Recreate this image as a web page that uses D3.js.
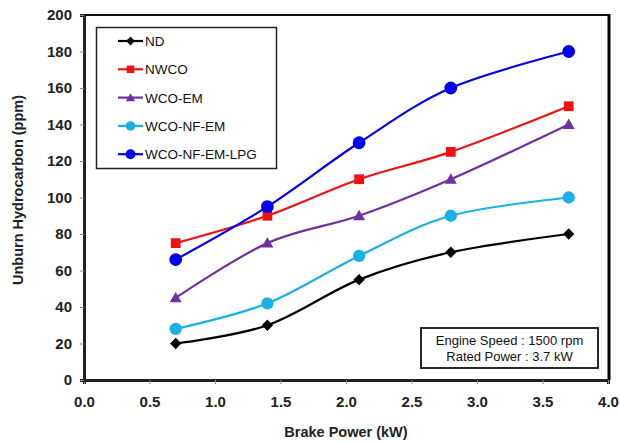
<!DOCTYPE html>
<html>
<head>
<meta charset="utf-8">
<script src="https://cdn.jsdelivr.net/npm/d3@7"></script>
<style>
  body { margin: 0; background: #fff; }
  text { font-family: "Liberation Sans", Arial, sans-serif; }
</style>
</head>
<body>
<div id="chart"></div>
<script>

// data
var power = [0.7, 1.4, 2.1, 2.8, 3.7];
var seriesNames = ["ND", "NWCO", "WCO-EM", "WCO-NF-EM", "WCO-NF-EM-LPG"];
var nd = [20, 30, 55, 70, 80];
var nwco = [75, 90, 110, 125, 150];
var wcoEm = [45, 75, 90, 110, 140];
var wcoNfEm = [28, 42, 68, 90, 100];
var wcoNfEmLpg = [66, 95, 130, 160, 180];
var xTicks = [0, 0.5, 1.0, 1.5, 2.0, 2.5, 3.0, 3.5, 4.0];
var yTicks = [0, 20, 40, 60, 80, 100, 120, 140, 160, 180, 200];
var notes = ["Engine Speed  : 1500 rpm", "Rated Power : 3.7 kW"];

var colors = ["#000000", "#ee1111", "#7030a0", "#19b0e8", "#0000ee"];
var shapes = ["diamond", "square", "triangle", "circle", "circle"];
var sizes = [64, 95, 62, 118, 128];
var values = [nd, nwco, wcoEm, wcoNfEm, wcoNfEmLpg];

// set the dimensions and margins of the graph
var margin = {top: 15, right: 12, bottom: 63, left: 84},
    width = 620 - margin.left - margin.right,
    height = 443 - margin.top - margin.bottom;

var x = d3.scaleLinear().domain([0, 4]).range([0, width]);
var y = d3.scaleLinear().domain([0, 200]).range([height, 0]);

var svg = d3.select("#chart").append("svg")
    .attr("width", 620)
    .attr("height", 443);

var plot = svg.append("g")
    .attr("transform", "translate(" + margin.left + "," + margin.top + ")");

// frame: top and right borders
plot.append("line")
    .attr("x1", 0).attr("x2", width).attr("y1", 0).attr("y2", 0)
    .attr("stroke", "#111").attr("stroke-width", 2);
plot.append("line")
    .attr("x1", width + 1).attr("x2", width + 1).attr("y1", -1).attr("y2", height)
    .attr("stroke", "#000").attr("stroke-width", 3);

// axes
var xAxis = plot.append("g")
    .attr("transform", "translate(0," + height + ")")
    .call(d3.axisBottom(x).tickValues(xTicks).tickFormat(d3.format(".1f")).tickSize(4).tickPadding(12));
var yAxis = plot.append("g")
    .call(d3.axisLeft(y).tickValues(yTicks).tickSize(4).tickPadding(8));

[xAxis, yAxis].forEach(function(a) {
  a.select(".domain").attr("stroke", "#222").attr("stroke-width", 3);
  a.selectAll(".tick line").attr("stroke", "#888");
  a.selectAll(".tick text")
    .attr("fill", "#222")
    .style("font-size", "15px")
    .style("font-weight", "bold")
    .style("font-family", "'Liberation Sans', Arial, sans-serif");
});

// axis titles
svg.append("text")
    .attr("x", margin.left + width / 2)
    .attr("y", 437)
    .attr("text-anchor", "middle")
    .attr("fill", "#222")
    .style("font-size", "14.5px")
    .style("font-weight", "bold")
    .text("Brake Power (kW)");

svg.append("text")
    .attr("transform", "translate(23,190) rotate(-90)")
    .attr("text-anchor", "middle")
    .attr("fill", "#222")
    .style("font-size", "14.5px")
    .style("font-weight", "bold")
    .text("Unburn Hydrocarbon (ppm)");

// lines -- smoothed like the spreadsheet
var valueline = d3.line()
    .x(function(d) { return x(d[0]); })
    .y(function(d) { return y(d[1]); })
    .curve(d3.curveCatmullRom.alpha(0));

var symbolTypes = {diamond: d3.symbolSquare, square: d3.symbolSquare,
                   triangle: d3.symbolTriangle, circle: d3.symbolCircle};

function markerTransform(i, px, py) {
  var t = "translate(" + px + "," + (py + (shapes[i] == "triangle" ? 1 : 0)) + ")";
  if (shapes[i] == "diamond") t += " rotate(45)";
  return t;
}

values.forEach(function(vals, i) {
  var pts = power.map(function(p, j) { return [p, vals[j]]; });
  plot.append("path")
      .datum(pts)
      .attr("fill", "none")
      .attr("stroke", colors[i])
      .attr("stroke-width", 2.2)
      .attr("d", valueline);
  plot.selectAll(".pt" + i)
      .data(pts)
      .enter().append("path")
      .attr("transform", function(d) { return markerTransform(i, x(d[0]), y(d[1])); })
      .attr("d", d3.symbol().type(symbolTypes[shapes[i]]).size(sizes[i]))
      .attr("fill", colors[i]);
});

// legend
var legend = svg.append("g");
legend.append("rect")
    .attr("x", 96.5).attr("y", 27.5).attr("width", 180).attr("height", 141)
    .attr("fill", "#fff").attr("stroke", "#222").attr("stroke-width", 1.5);

seriesNames.forEach(function(name, i) {
  var ly = 41 + i * 28.3;
  legend.append("line")
      .attr("x1", 118).attr("x2", 143).attr("y1", ly).attr("y2", ly)
      .attr("stroke", colors[i]).attr("stroke-width", 2.2);
  legend.append("path")
      .attr("transform", markerTransform(i, 130.5, ly))
      .attr("d", d3.symbol().type(symbolTypes[shapes[i]]).size(sizes[i] * 0.6))
      .attr("fill", colors[i]);
  legend.append("text")
      .attr("x", 145).attr("y", ly + 5)
      .attr("fill", "#111")
      .style("font-size", "13.5px")
      .text(name);
});

// annotation box
var note = svg.append("g");
note.append("rect")
    .attr("x", 421).attr("y", 328).attr("width", 177).attr("height", 40)
    .attr("fill", "#fff").attr("stroke", "#111").attr("stroke-width", 1.8);
notes.forEach(function(t, i) {
  note.append("text")
      .attr("x", 509.5).attr("y", 345 + i * 15.5)
      .attr("text-anchor", "middle")
      .attr("fill", "#111")
      .style("font-size", "13px")
      .text(t);
});

</script>
</body>
</html>
